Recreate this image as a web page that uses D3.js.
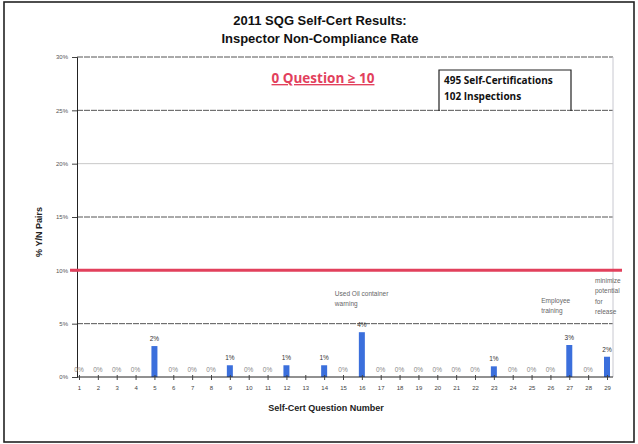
<!DOCTYPE html>
<html><head><meta charset="utf-8">
<script src="https://cdn.jsdelivr.net/npm/d3@7"></script>
<style>body{margin:0;background:#fff}svg{display:block}</style>
</head><body>
<svg id="c" width="638" height="444"></svg>
<script>
const categories = d3.range(1, 30).map(String);
const values = [0,0,0,0,2.9,0,0,0,1.1,0,0,1.1,0,1.1,0,4.2,0,0,0,0,0,0,1.0,0,0,0,3.0,0,1.9];
const valueLabels = ["0%","0%","0%","0%","2%","0%","0%","0%","1%","0%","0%","1%","","1%","0%","4%","0%","0%","0%","0%","0%","0%","1%","0%","0%","0%","3%","0%","2%"];
const yTicks = [0,5,10,15,20,25,30];
const threshold = 10;
const titleLines = ["2011 SQG Self-Cert Results:", "Inspector Non-Compliance Rate"];
const boxLines = ["495 Self-Certifications", "102 Inspections"];
const notes = [
  {cat:"16", lines:["Used Oil container","warning"]},
  {cat:"27", lines:["Employee","training"]},
  {cat:"29", lines:["minimize","potential","for","release"]}
];

const svg = d3.select("#c");
const x = d3.scalePoint().domain(categories).range([79, 607]);
const y = d3.scaleLinear().domain([0, 30]).range([377, 57]);

// outer border
svg.append("rect").attr("x",4).attr("y",2).attr("width",630).attr("height",440)
  .attr("fill","none").attr("stroke","#222").attr("stroke-width",1.6);

// title
svg.selectAll("text.title").data(titleLines).join("text")
  .attr("x",320).attr("y",(d,i)=>25+i*18).attr("text-anchor","middle")
  .attr("font-family","Liberation Sans, Arial, sans-serif").attr("font-weight","bold")
  .attr("font-size",13).attr("fill","#111").text(d=>d);

// gridlines
const plotL = 77, plotR = 613;
svg.append("g").selectAll("line").data(yTicks.filter(t=>t>0 && t!==threshold)).join("line")
  .attr("x1",plotL).attr("x2",plotR).attr("y1",d=>y(d)).attr("y2",d=>y(d))
  .attr("stroke",d=>d===20?"#c8c8c8":"#555").attr("stroke-width",1)
  .attr("stroke-dasharray",d=>d===20?null:"6 1");
// right plot border
svg.append("line").attr("x1",plotR).attr("x2",plotR).attr("y1",y(30)).attr("y2",y(0))
  .attr("stroke","#c8c8d0").attr("stroke-width",1);

// y axis
const yAxis = d3.axisLeft(y).tickValues(yTicks).tickFormat(d=>d+"%").tickSize(5).tickPadding(4);
const gy = svg.append("g").attr("transform",`translate(${plotL},0)`).call(yAxis);
gy.select(".domain").attr("stroke","#222");
gy.selectAll(".tick line").attr("stroke","#444");
gy.selectAll("text").attr("font-family","Liberation Sans, Arial, sans-serif").attr("font-size",6).attr("fill","#555");

// y title
svg.append("text").attr("transform","translate(42,232) rotate(-90)").attr("text-anchor","middle")
  .attr("font-family","Liberation Sans, Arial, sans-serif").attr("font-weight","bold")
  .attr("font-size",9).attr("fill","#222").text("% Y/N Pairs");

// bars
const bw = 6;
svg.append("g").selectAll("rect").data(values).join("rect")
  .attr("x",(d,i)=>x(categories[i])-bw/2).attr("width",bw)
  .attr("y",d=>y(d)).attr("height",d=>y(0)-y(d)).attr("fill","#3b6fdc");

// x axis
const xAxis = d3.axisBottom(x).tickSizeInner(3).tickSizeOuter(0).tickPadding(6);
const gx = svg.append("g").attr("transform",`translate(0,${y(0)})`).call(xAxis);
gx.select(".domain").attr("stroke","#222").attr("d",`M${plotL},0H${plotR}`);
gx.selectAll(".tick line").attr("stroke","#444").attr("y1",-2);
gx.selectAll("text").attr("font-family","Liberation Sans, Arial, sans-serif").attr("font-size",6).attr("fill","#444");

// x title
svg.append("text").attr("x",326).attr("y",411).attr("text-anchor","middle")
  .attr("font-family","Liberation Sans, Arial, sans-serif").attr("font-weight","bold")
  .attr("font-size",9).attr("fill","#222").text("Self-Cert Question Number");

// value labels
svg.append("g").selectAll("text").data(values).join("text")
  .attr("x",(d,i)=>x(categories[i])).attr("y",d=>y(d)-5).attr("text-anchor","middle")
  .attr("font-family","Liberation Sans, Arial, sans-serif").attr("font-size",6.5)
  .attr("fill",d=>d>0?"#333":"#888").text((d,i)=>valueLabels[i]);

// threshold line
svg.append("line").attr("x1",70).attr("x2",622).attr("y1",y(threshold)).attr("y2",y(threshold))
  .attr("stroke","#e2405c").attr("stroke-width",3);

// headline
svg.append("text").attr("x",323).attr("y",83).attr("text-anchor","middle")
  .attr("font-family","Open Sans, sans-serif").attr("font-weight","bold")
  .attr("font-size",13.5).attr("fill","#e2405c").attr("text-decoration","underline")
  .text("0 Question \u2265 10");

// box
svg.append("path").attr("d","M439,111V70H571V111").attr("fill","none").attr("stroke","#222").attr("stroke-width",1.2);
svg.selectAll("text.box").data(boxLines).join("text")
  .attr("x",444).attr("y",(d,i)=>84+i*16)
  .attr("font-family","Open Sans, sans-serif").attr("font-weight","bold")
  .attr("font-size",10).attr("fill","#111").text(d=>d);

// notes
notes.forEach(n=>{
  const cx = x(n.cat);
  const base = n.cat==="29" ? 283 : (n.cat==="16" ? 296 : 303);
  const xs = n.cat==="16" ? cx-27 : (n.cat==="27" ? cx-28 : cx-12);
  svg.append("g").selectAll("text").data(n.lines).join("text")
    .attr("x",xs).attr("y",(d,i)=>base+i*10.3)
    .attr("font-family","Liberation Sans, Arial, sans-serif").attr("font-size",6.5)
    .attr("fill","#666").text(d=>d);
});
</script>
</body></html>
